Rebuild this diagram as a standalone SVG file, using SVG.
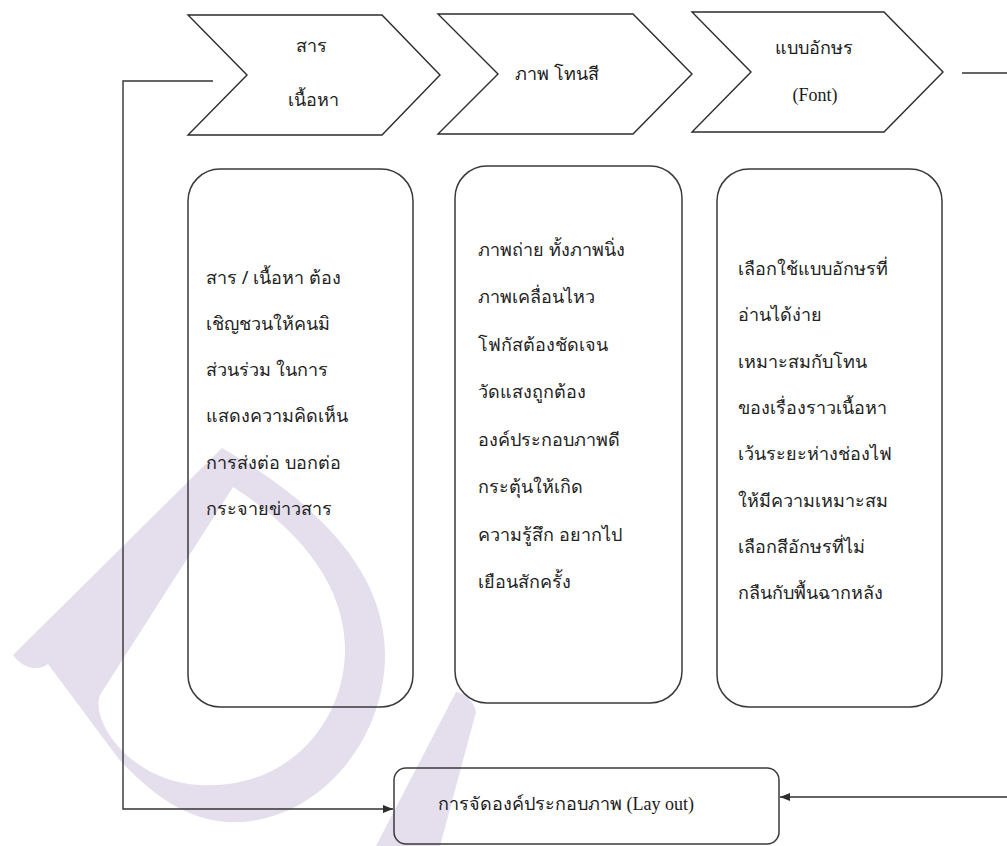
<svg xmlns="http://www.w3.org/2000/svg" width="1007" height="846" viewBox="0 0 1007 846">
  <defs>
    <marker id="arrow" viewBox="0 0 10 10" refX="10" refY="5" markerWidth="10" markerHeight="10" markerUnits="userSpaceOnUse" orient="auto">
      <path d="M0,1 L10,5 L0,9 z" fill="#2e2e2e"/>
    </marker>
  </defs>
  <style>
    .chev{fill:none;stroke:#2b2b2b;stroke-width:1.4;stroke-linejoin:miter}
    .box{fill:none;stroke:#3a3a3a;stroke-width:1.5}
    .conn{fill:none;stroke:#333;stroke-width:1.4}
    .sans{font-family:'Noto Sans','DejaVu Sans',sans-serif;font-size:18px;fill:#222}
    .serif{font-family:'Liberation Serif','DejaVu Serif',serif;font-size:18px;fill:#1a1a1a}
  </style>
  <rect width="1007" height="846" fill="#fff"/>

  <!-- lavender emblem behind the chart -->
  <g id="emblem" fill="#e4deed">
    <path fill-rule="evenodd" d="M222 448 L13 655 C22 668 38 672 48 664 L118 758 C160 805 200 824 240 822 C320 818 385 740 385 655 C385 580 330 510 222 448 Z
      M233 487 L100 695 C90 720 130 782 200 785 C290 790 345 720 345 650 C345 585 300 530 233 487 Z"/>
    <path d="M456 692 C466 694 474 702 476 712 L440 846 L376 846 Z"/>
  </g>

  <!-- connectors -->
  <g id="connectors">
    <path class="conn" d="M213 81 H123 V809 H393" marker-end="url(#arrow)"/>
    <path class="conn" d="M962 73 H1015 V797 H780" marker-end="url(#arrow)"/>
  </g>

  <!-- process chevrons -->
  <g id="step-content">
    <path class="chev" d="M188 15 H382 L440 75 L382 135 H188 L247 75 Z"/>
    <text class="sans" x="311" y="52" text-anchor="middle" font-size="19">สาร</text>
    <text class="sans" x="313" y="106" text-anchor="middle" font-size="19">เนื้อหา</text>
  </g>
  <g id="step-image">
    <path class="chev" d="M438 14 H633 L692 74 L633 134 H438 L498 74 Z"/>
    <text class="serif" x="515" y="80" font-size="20">ภาพ โทนสี</text>
  </g>
  <g id="step-font">
    <path class="chev" d="M692 12 H884 L943 72 L884 132 H692 L751 72 Z"/>
    <text class="serif" x="814" y="54" text-anchor="middle" font-size="20">แบบอักษร</text>
    <text class="serif" x="815" y="101" text-anchor="middle">(Font)</text>
  </g>

  <!-- detail cards -->
  <g id="card-content">
    <rect class="box" x="188" y="169" width="225" height="538" rx="32"/>
    <text class="sans">
      <tspan x="206" y="284">สาร / เนื้อหา ต้อง</tspan>
      <tspan x="206" y="330">เชิญชวนให้คนมิ</tspan>
      <tspan x="206" y="376">ส่วนร่วม ในการ</tspan>
      <tspan x="206" y="422">แสดงความคิดเห็น</tspan>
      <tspan x="206" y="469">การส่งต่อ บอกต่อ</tspan>
      <tspan x="206" y="515">กระจายข่าวสาร</tspan>
    </text>
  </g>
  <g id="card-image">
    <rect class="box" x="455" y="166" width="227" height="537" rx="32"/>
    <text class="sans">
      <tspan x="478" y="256">ภาพถ่าย ทั้งภาพนิ่ง</tspan>
      <tspan x="478" y="303">ภาพเคลื่อนไหว</tspan>
      <tspan x="478" y="351">โฟกัสต้องชัดเจน</tspan>
      <tspan x="478" y="398">วัดแสงถูกต้อง</tspan>
      <tspan x="478" y="446">องค์ประกอบภาพดี</tspan>
      <tspan x="478" y="493">กระตุ้นให้เกิด</tspan>
      <tspan x="478" y="541">ความรู้สึก อยากไป</tspan>
      <tspan x="478" y="588">เยือนสักครั้ง</tspan>
    </text>
  </g>
  <g id="card-font">
    <rect class="box" x="717" y="169" width="225" height="538" rx="32"/>
    <text class="sans">
      <tspan x="738" y="275">เลือกใช้แบบอักษรที่</tspan>
      <tspan x="738" y="321">อ่านได้ง่าย</tspan>
      <tspan x="738" y="368">เหมาะสมกับโทน</tspan>
      <tspan x="738" y="414">ของเรื่องราวเนื้อหา</tspan>
      <tspan x="738" y="460">เว้นระยะห่างช่องไฟ</tspan>
      <tspan x="738" y="507">ให้มีความเหมาะสม</tspan>
      <tspan x="738" y="553">เลือกสีอักษรที่ไม่</tspan>
      <tspan x="738" y="599">กลืนกับพื้นฉากหลัง</tspan>
    </text>
  </g>

  <!-- layout result -->
  <g id="layout">
    <rect class="box" x="394" y="768" width="385" height="76" rx="12"/>
    <text class="serif" x="438" y="810" font-size="17">การจัดองค์ประกอบภาพ (Lay out)</text>
  </g>
</svg>
